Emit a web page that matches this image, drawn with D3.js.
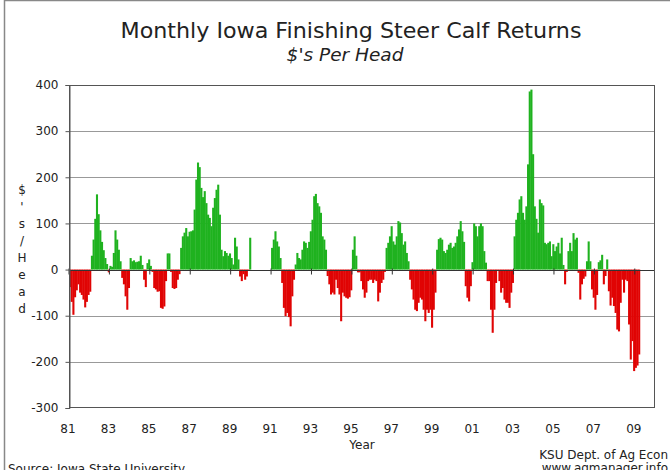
<!DOCTYPE html>
<html lang="en">
<head>
<meta charset="utf-8">
<style>
  body { margin: 0; background: #fff; }
  svg text { font-family: Tahoma, "DejaVu Sans", Verdana, sans-serif; fill: #222; }
  .grid { stroke: #999; stroke-width: 1px; }
  .frame { fill: none; stroke: #555; stroke-width: 1px; }
</style>
</head>
<body>
<svg width="670" height="470"></svg>
<script src="https://d3js.org/d3.v7.min.js"></script>
<script>

// monthly returns, $ per head, Jan 1981 onward (null = no data)
var startYear = 1981;
var monthlyReturns = [
  -38, -70, -98, -60, -45, -32, -50, -55, -65, -82, -70, -55,      // 1981
  -48, 30, 65, 110, 163, 120, 85, 60, 42, 25, 12, -6,              // 1982
  8, 6, 36, 85, 65, 43, 18, -18, -32, -58, -87, -40,               // 1983
  25, 18, 20, 16, 17, 18, 30, 10, -22, -38, 14, 22,                // 1984
  8, -5, -40, -43, -48, -47, -83, -85, -80, -25, 35, 35,           // 1985
  -5, -40, -42, -40, -22, -10, 47, 72, 80, 90, 72, 82,             // 1986
  83, 85, 130, 195, 232, 222, 177, 157, 170, 144, 119, 112,        // 1987
  94, 134, 155, 173, 184, 119, 43, 29, 40, 36, 30, 35,             // 1988
  25, 11, 69, 50, 22, -15, -25, -10, -22, -15, -3, 69,             // 1989
  null, null, null, null, null, null, null, null, null, null, null, null, // 1990
  47, 65, 83, 61, 50, 25, -29, -83, -101, -94, -103, -123,         // 1991
  -58, -22, 11, 36, 25, 22, 43, 61, 58, 47, 60, 83,                // 1992
  108, 159, 164, 144, 137, 123, 72, 65, 43, -14, -32, -54,         // 1993
  -50, -54, -22, -40, -54, -112, -50, -58, -61, -63, -60, -45,     // 1994
  43, 72, 30, -6, -6, -25, -43, -61, -50, -25, -22, -22,           // 1995
  -29, -22, -25, -69, -50, -29, -22, -5, 47, 58, 72, 94,           // 1996
  61, 54, 72, 105, 102, 79, 54, 61, 36, 18, -22, -43,              // 1997
  -65, -87, -90, -72, -61, -65, -87, -112, -87, -94, -87, -126,    // 1998
  -87, -50, 43, 66, 69, 65, 40, 36, 43, 54, 58, 47,                // 1999
  50, 58, 72, 87, 105, 83, 60, -36, -61, -69, -36, 16,             // 2000
  100, 94, 72, 94, 100, 94, 40, 15, -25, -25, -87, -137,           // 2001
  -87, -29, -3, -25, -50, -40, -65, -72, -72, -83, -50, -29,       // 2002
  72, 108, 123, 152, 159, 123, 108, 137, 228, 386, 390, 250,       // 2003
  137, 110, 80, 152, 144, 139, 58, 55, 58, 61, 29, 55,             // 2004
  40, 50, 58, 35, 69, 10, -32, -5, 40, 58, 40, 79,                 // 2005
  65, 69, -7, -65, -32, -20, -15, 18, 61, 18, -43, -61,            // 2006
  -87, -55, 16, 20, 32, -32, -14, 22, -47, -78, -61, -79,          // 2007
  -94, -130, -134, -72, -22, -50, -22, -25, -119, -195, -155, -220,// 2008
  -213, -208, -184                                                 // 2009
];
var yearLabels = ["81", "83", "85", "87", "89", "91", "93", "95", "97", "99", "01", "03", "05", "07", "09"];
var yTicks = [-300, -200, -100, 0, 100, 200, 300, 400];
var yTitle = ["$", "'", "s", "/", "H", "e", "a", "d"];

var svg = d3.select("svg");

var x = d3.scaleBand()
  .domain(d3.range(348))
  .range([69, 655])
  .padding(0);

var y = d3.scaleLinear()
  .domain([-300, 400])
  .range([408, 85]);

// outer frame of the picture
svg.append("rect")
  .attr("x", 4.5).attr("y", 0.5)
  .attr("width", 700).attr("height", 500)
  .attr("fill", "none")
  .attr("stroke", "#888")
  .attr("stroke-width", 1.5);

// gridlines
svg.append("g").selectAll("line")
  .data(yTicks.filter(function(d) { return d > -300 && d < 400; }))
  .enter().append("line")
  .attr("class", "grid")
  .attr("x1", 69).attr("x2", 655)
  .attr("y1", function(d) { return Math.round(y(d)) + 0.5; })
  .attr("y2", function(d) { return Math.round(y(d)) + 0.5; });

// bars
var bars = monthlyReturns.map(function(v, i) { return {i: i, v: v}; })
  .filter(function(d) { return d.v !== null; });

svg.append("g").selectAll("rect")
  .data(bars)
  .enter().append("rect")
  .attr("x", function(d) { return x(d.i); })
  .attr("width", x.bandwidth() + 0.4)
  .attr("y", function(d) { return y(Math.max(0, d.v)); })
  .attr("height", function(d) { return Math.abs(y(d.v) - y(0)); })
  .attr("fill", function(d) { return d.v >= 0 ? "#1fb21f" : "#e00404"; });

// zero (category) axis with ticks every two years
var y0 = Math.round(y(0)) + 0.5;
svg.append("line")
  .attr("x1", 69).attr("x2", 655)
  .attr("y1", y0).attr("y2", y0)
  .attr("stroke", "#333");

svg.append("g").selectAll("line")
  .data(yearLabels.map(function(d, k) { return k * 24; }))
  .enter().append("line")
  .attr("x1", function(d) { return x(d); })
  .attr("x2", function(d) { return x(d); })
  .attr("y1", y0 - 2).attr("y2", y0 + 4)
  .attr("stroke", "#333");

// plot frame
svg.append("rect")
  .attr("class", "frame")
  .attr("x", 69.5).attr("y", 85.5)
  .attr("width", 585).attr("height", 322);

// y axis
var yAxis = d3.axisLeft(y)
  .tickValues(yTicks)
  .tickFormat(function(d) { return String(d); })
  .tickSize(4)
  .tickPadding(7);

var gy = svg.append("g")
  .attr("transform", "translate(69.5,0)")
  .call(yAxis);
gy.select(".domain").attr("stroke", "#555");
gy.selectAll(".tick line").attr("stroke", "#555");
gy.selectAll(".tick text")
  .style("font-size", "12px")
  .style("font-family", "Tahoma, 'DejaVu Sans', sans-serif")
  .attr("fill", "#222");

// x labels
svg.append("g").selectAll("text")
  .data(yearLabels)
  .enter().append("text")
  .attr("x", function(d, k) { return x(k * 24) - 1; })
  .attr("y", 433)
  .attr("text-anchor", "middle")
  .style("font-size", "12px")
  .text(function(d) { return d; });

// titles
svg.append("text")
  .attr("x", 351).attr("y", 38)
  .attr("text-anchor", "middle")
  .attr("textLength", 461)
  .attr("lengthAdjust", "spacingAndGlyphs")
  .style("font-size", "21px")
  .text("Monthly Iowa Finishing Steer Calf Returns");

svg.append("text")
  .attr("x", 345).attr("y", 61)
  .attr("text-anchor", "middle")
  .style("font-size", "18.5px")
  .style("font-style", "italic")
  .text("$'s Per Head");

svg.append("g").selectAll("text")
  .data(yTitle)
  .enter().append("text")
  .attr("x", 22)
  .attr("y", function(d, k) { return 194 + k * 17; })
  .attr("text-anchor", "middle")
  .style("font-size", "12px")
  .text(function(d) { return d; });

svg.append("text")
  .attr("x", 362).attr("y", 449)
  .attr("text-anchor", "middle")
  .style("font-size", "12px")
  .text("Year");

svg.append("text")
  .attr("x", 668).attr("y", 459)
  .attr("text-anchor", "end")
  .style("font-size", "12px")
  .text("KSU Dept. of Ag Econ");

svg.append("text")
  .attr("x", 668).attr("y", 472)
  .attr("text-anchor", "end")
  .style("font-size", "12px")
  .text("www.agmanager.info");

svg.append("text")
  .attr("x", 8).attr("y", 473)
  .style("font-size", "12px")
  .text("Source: Iowa State University");

</script>
</body>
</html>
